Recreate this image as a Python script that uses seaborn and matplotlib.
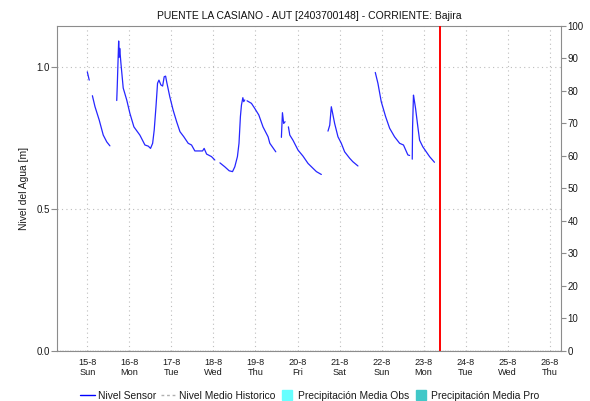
"""
Nivel del agua - PUENTE LA CASIANO (sensor AUT 2403700148).
"""

import matplotlib

matplotlib.use("Agg")

import matplotlib.pyplot as plt
import pandas as pd
import seaborn as sns
from matplotlib.lines import Line2D


# Tramos de la serie del sensor (horas desde 15-8 00:00, nivel en m)
SEG_HOURS = [
    [0.0, 1.1],
    [2.9, 4.4, 6.8, 9.1, 11.1, 12.9],
    [16.8, 17.1, 17.9, 18.2, 18.5, 19.2, 20.5, 22.5, 24.3, 26.6, 30.0, 32.9,
     34.8, 36.1, 37.3, 38.2, 39.2, 40.1, 40.9, 42.0, 43.0, 43.9, 44.7, 45.3,
     47.1, 49.0, 51.0, 52.9, 55.1, 57.6, 59.5, 61.4, 65.8, 66.7, 68.1, 70.9,
     72.8],
    [75.7, 78.5, 81.0, 82.9, 84.2, 85.7, 86.6, 87.4, 88.0, 88.8, 89.3, 89.9],
    [91.2, 93.7, 95.6, 97.9, 100.3, 103.2, 104.2, 107.6],
    [110.8, 111.4, 112.1, 112.9],
    [114.8, 115.6, 117.4, 120.3, 123.1, 126.0, 128.8, 130.8, 133.6],
    [137.4, 138.4, 139.3, 139.9, 141.2, 143.1, 145.0, 146.9, 149.8, 151.6,
     154.5],
    [164.4, 165.9, 167.8, 170.3, 172.6, 175.4, 178.3, 180.5, 183.0, 184.0],
    [185.5, 185.7, 186.2, 186.8, 187.4, 188.7, 189.7, 191.5, 193.5, 195.4,
     198.2],
]
SEG_LEVELS = [
    [0.984, 0.955],
    [0.900, 0.861, 0.814, 0.761, 0.737, 0.723],
    [0.883, 0.934, 1.093, 1.036, 1.067, 1.014, 0.927, 0.885, 0.838, 0.790,
     0.761, 0.726, 0.722, 0.714, 0.732, 0.779, 0.861, 0.944, 0.955, 0.938,
     0.934, 0.967, 0.969, 0.949, 0.896, 0.849, 0.808, 0.773, 0.755, 0.732,
     0.726, 0.705, 0.705, 0.714, 0.694, 0.685, 0.673],
    [0.663, 0.649, 0.635, 0.632, 0.649, 0.685, 0.732, 0.826, 0.867, 0.893,
     0.879, 0.885],
    [0.882, 0.873, 0.855, 0.832, 0.790, 0.755, 0.732, 0.702],
    [0.753, 0.840, 0.802, 0.808],
    [0.790, 0.761, 0.743, 0.708, 0.687, 0.661, 0.644, 0.632, 0.622],
    [0.775, 0.796, 0.861, 0.843, 0.802, 0.755, 0.732, 0.702, 0.679, 0.667,
     0.652],
    [0.982, 0.944, 0.879, 0.826, 0.785, 0.755, 0.732, 0.726, 0.691, 0.689],
    [0.676, 0.790, 0.902, 0.879, 0.855, 0.790, 0.743, 0.720, 0.702, 0.685,
     0.665],
]

START = pd.Timestamp("2021-08-15")
NOW = pd.Timestamp("2021-08-23 09:14")
DAY_LABELS = ["15-8\nSun", "16-8\nMon", "17-8\nTue", "18-8\nWed", "19-8\nThu",
              "20-8\nFri", "21-8\nSat", "22-8\nSun", "23-8\nMon", "24-8\nTue",
              "25-8\nWed", "26-8\nThu"]
LEVEL_TICKS = [0.0, 0.5, 1.0]
PRECIP_TICKS = list(range(0, 101, 10))
LEGEND_LABELS = ["Nivel Sensor", "Nivel Medio Historico",
                 "Precipitación Media Obs", "Precipitación Media Pro"]

TITLE = "PUENTE LA CASIANO - AUT [2403700148] - CORRIENTE: Bajira"


def build_frame() -> pd.DataFrame:
    rows = []
    for seg, (hours, levels) in enumerate(zip(SEG_HOURS, SEG_LEVELS)):
        for h, v in zip(hours, levels):
            rows.append({"time": START + pd.Timedelta(hours=h), "nivel": v, "seg": seg})
    return pd.DataFrame(rows)


def main() -> None:
    sns.set_style("white")
    plt.rcParams["font.family"] = ["Liberation Sans", "DejaVu Sans"]

    df = build_frame()
    grey = "#8c8c8c"

    fig = plt.figure(figsize=(5.9, 4.01), dpi=100)
    ax = fig.add_axes([0.0971, 0.1254, 0.8532, 0.8105])

    sns.lineplot(data=df, x="time", y="nivel", units="seg", estimator=None,
                 color="#2626ff", lw=0.9, legend=False, ax=ax)

    days = pd.date_range(START, periods=len(DAY_LABELS), freq="D")
    ax.set_xticks(days)
    ax.set_xticklabels(DAY_LABELS, fontsize=6.6, color="#1a1a1a", linespacing=1.25)
    ax.set_xlim(START - pd.Timedelta(days=0.714), days[-1] + pd.Timedelta(days=0.26))
    ax.set_ylim(0, 1.147)
    ax.set_yticks(LEVEL_TICKS)
    ax.set_yticklabels([f"{t:.1f}" for t in LEVEL_TICKS], fontsize=7, color="#1a1a1a")

    ax.grid(True, color="#bdbdbd", lw=0.8, ls=(0, (1, 3)))
    ax.axhline(0, color="#333333", lw=0.9, ls=(0, (1, 1)), zorder=3)
    ax.axvline(NOW, color="#ff0000", lw=1.4, zorder=4)

    ax.tick_params(axis="x", length=0, pad=5)
    ax.tick_params(axis="y", length=4, width=0.8, color=grey, pad=1.5)
    for side in ["top", "left", "right", "bottom"]:
        ax.spines[side].set_color(grey)
        ax.spines[side].set_linewidth(0.8)

    ax.set_xlabel("")
    ax.set_ylabel("Nivel del Agua [m]", fontsize=7.4, color="#1a1a1a")
    ax.yaxis.set_label_coords(-0.057, 0.5)
    ax.set_title(TITLE, fontsize=7.5, pad=5, color="#111111")

    ax2 = ax.twinx()
    ax2.set_ylim(0, 100)
    ax2.set_yticks(PRECIP_TICKS)
    ax2.set_yticklabels([str(t) for t in PRECIP_TICKS], fontsize=7, color="#1a1a1a")
    ax2.tick_params(axis="y", length=3.5, width=0.8, color=grey, pad=1.5)
    for side in ["top", "left", "right", "bottom"]:
        ax2.spines[side].set_visible(False)

    handles = [
        Line2D([], [], color="#0000ff", lw=1.0),
        Line2D([], [], color="#b0b0b0", lw=1.0, ls=(0, (2, 2))),
        Line2D([], [], color="#66ffff", marker="s", ls="none", markersize=7),
        Line2D([], [], color="#40c8c8", marker="s", ls="none", markersize=7),
    ]
    fig.legend(handles, LEGEND_LABELS, loc="center", bbox_to_anchor=(0.525, 0.0125),
               ncol=4, frameon=False, fontsize=7.4, handlelength=1.5,
               handletextpad=0.25, columnspacing=0.45, labelcolor="#1a1a1a")

    fig.savefig("out.png", dpi=100)
    plt.close(fig)


if __name__ == "__main__":
    main()
